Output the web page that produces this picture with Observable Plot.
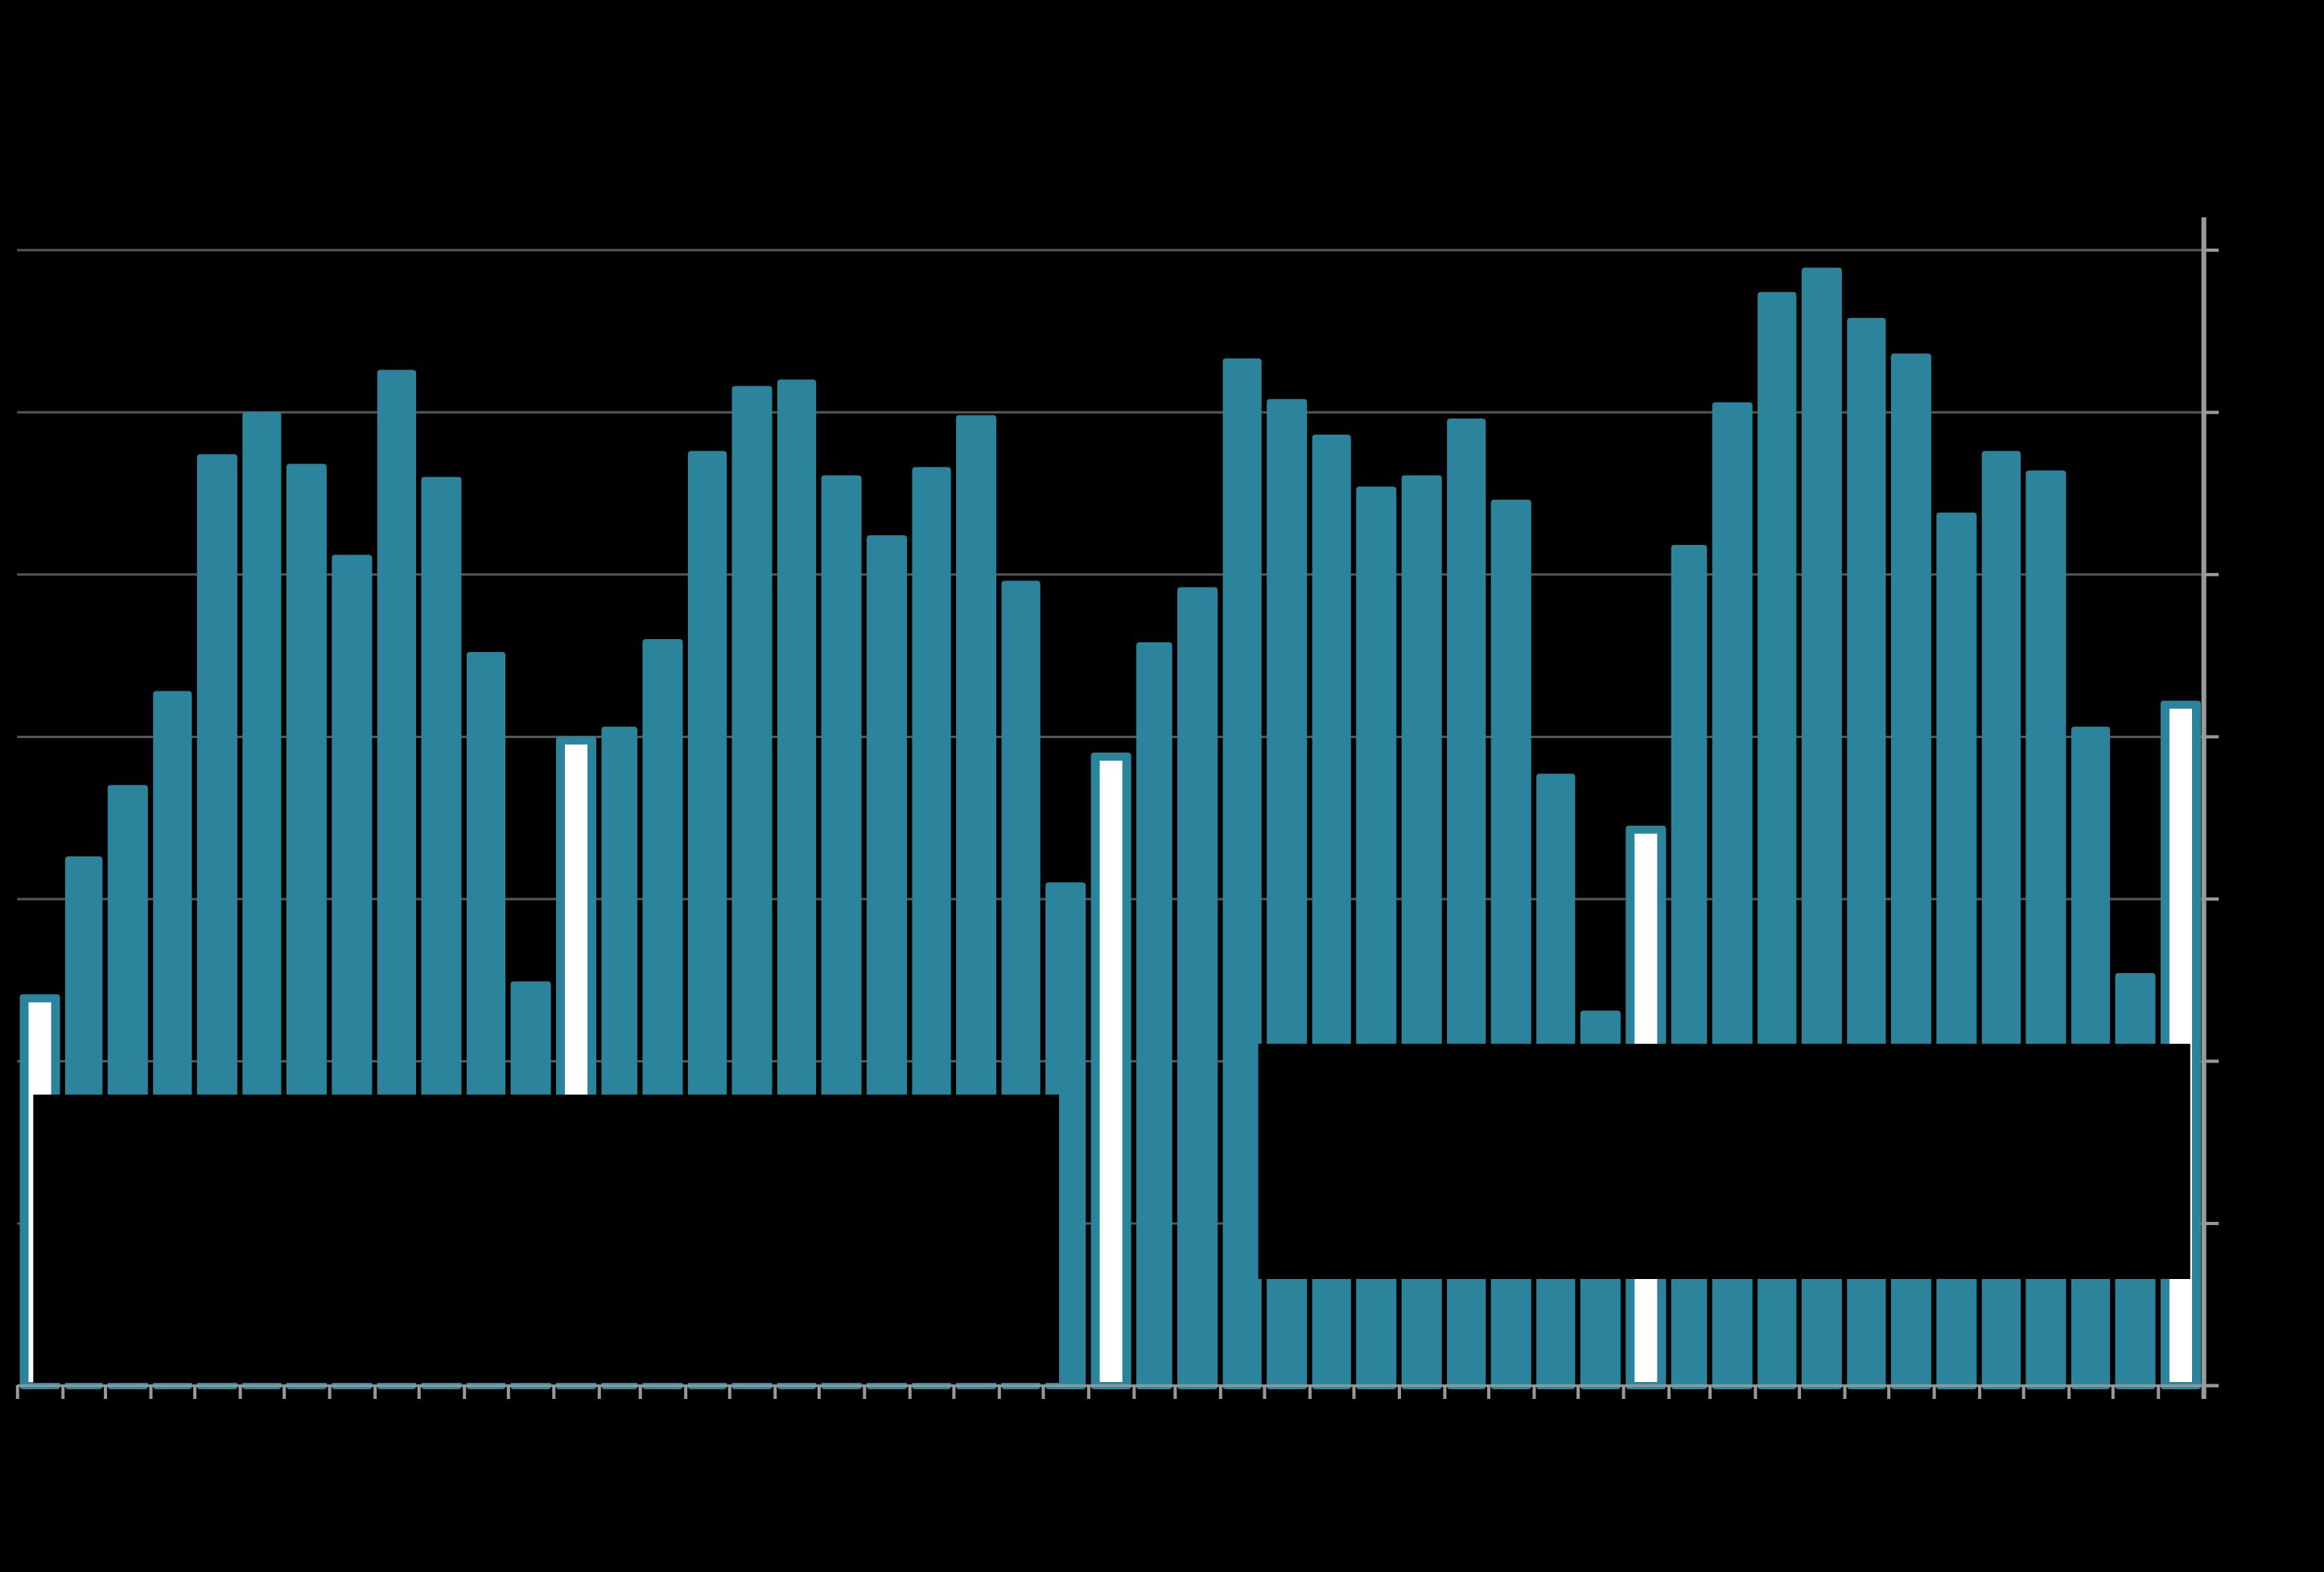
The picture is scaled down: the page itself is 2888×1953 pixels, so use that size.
<!DOCTYPE html>
<html>
<head>
<meta charset="utf-8">
<script src="https://cdn.jsdelivr.net/npm/d3@7"></script>
<script src="https://cdn.jsdelivr.net/npm/@observablehq/plot@0.6"></script>
<style>
  html, body { margin: 0; padding: 0; background: #000; }
  #chart svg { display: block; }
</style>
</head>
<body>
<div id="chart"></div>
<script>
// Monthly values, Jan (first) through Jan (last), 49 months
const startMonth = "2020-01-01";
const values = [
  24.1, 32.6, 37.0, 42.8, 57.4, 60.0, 56.8, 51.2, 62.6, 56.0, 45.2, 24.9,
  40.0, 40.6, 46.0, 57.6, 61.6, 62.0, 56.1, 52.4, 56.6, 59.8, 49.6, 31.0,
  39.0, 45.8, 49.2, 63.3, 60.8, 58.6, 55.4, 56.1, 59.6, 54.6, 37.7, 23.1,
  34.5, 51.8, 60.6, 67.4, 68.9, 65.8, 63.6, 53.8, 57.6, 56.4, 40.6, 25.4,
  42.2
];
const highlightMonth = 0; // January bars are drawn hollow (white)
const yTicks = [0, 10, 20, 30, 40, 50, 60, 70];

// annotation boxes (data coordinates)
const boxStart = ["2020-01-12", "2022-04-27"];
const boxEnd   = ["2021-12-12", "2024-01-23"];
const boxLow   = [0.15, 6.55];
const boxHigh  = [17.92, 21.05];

const t0 = new Date(startMonth);
const data = values.map((v, i) => ({date: d3.utcMonth.offset(t0, i), value: v}));
const highlighted = data.filter(d => d.date.getUTCMonth() === highlightMonth);
const boxes = boxStart.map((s, i) => ({x1: new Date(s), x2: new Date(boxEnd[i]), y1: boxLow[i], y2: boxHigh[i]}));

const teal = "#2b839c";
const xDomain = [t0, d3.utcMonth.offset(t0, values.length)];
const monthEdges = d3.utcMonth.range(xDomain[0], d3.utcMonth.offset(xDomain[1], 1));

const chart = Plot.plot({
  width: 2888,
  height: 1953,
  marginLeft: 21.3,
  marginRight: 149.8,
  marginTop: 270,
  marginBottom: 232,
  style: {background: "#000"},
  x: {type: "utc", domain: xDomain, axis: null},
  y: {domain: [0, 72], axis: null},
  marks: [
    Plot.ruleY(yTicks.slice(1), {stroke: "#555", strokeWidth: 3}),
    Plot.rectY(data, {x: "date", y: "value", interval: "month", fill: teal,
      insetLeft: 3.2, insetRight: 3.2, insetBottom: -5, rx: 4}),
    Plot.rectY(highlighted, {x: "date", y: "value", interval: "month", fill: "#fff",
      insetLeft: 14.2, insetRight: 14.2, insetTop: 10, insetBottom: 4}),
    Plot.rect(boxes, {x1: "x1", x2: "x2", y1: "y1", y2: "y2", fill: "#000"}),
    Plot.ruleY([0], {stroke: "#999", strokeOpacity: 0.9, strokeWidth: 3.5, insetRight: -18}),
    Plot.ruleX(monthEdges, {x: d => d, y1: 0, y2: 0, insetBottom: -17, stroke: "#999", strokeWidth: 4}),
    Plot.ruleX([xDomain[1]], {stroke: "#999", strokeWidth: 6, insetBottom: -17}),
    Plot.axisY(yTicks, {anchor: "right", tickSize: 18, tickFormat: () => "", stroke: "#999", strokeWidth: 4})
  ]
});
document.getElementById("chart").appendChild(chart);
</script>
</body>
</html>
